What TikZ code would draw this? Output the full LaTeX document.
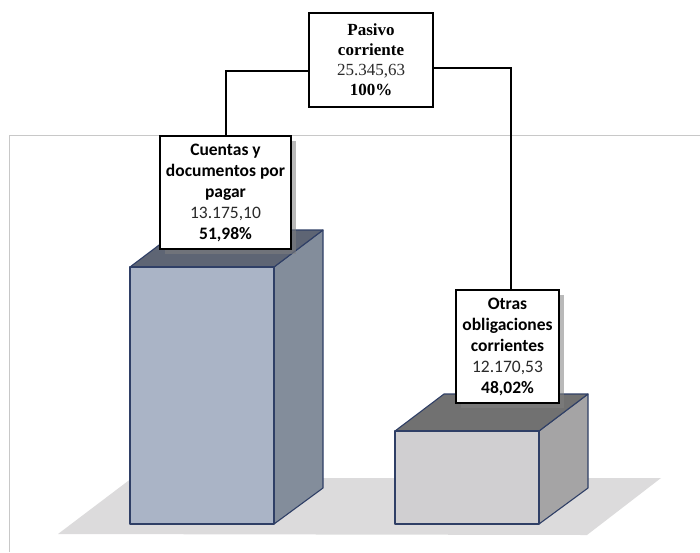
\documentclass[tikz,border=0pt]{standalone}
\usepackage{fontspec}
\setmainfont{Carlito}
\newfontfamily\timesfont{Liberation Serif}
\usetikzlibrary{shadows}
\definecolor{framegray}{HTML}{C8C8C8}
\definecolor{floorgray}{HTML}{DCDBDC}
\definecolor{barline}{HTML}{2F3F66}
\definecolor{blueface}{HTML}{AAB4C6}
\definecolor{blueside}{HTML}{838D9B}
\definecolor{bluetop}{HTML}{5E6574}
\definecolor{grayface}{HTML}{D0CFD1}
\definecolor{grayside}{HTML}{A5A4A5}
\definecolor{graytop}{HTML}{717171}
\definecolor{valuegray}{HTML}{2A2A2A}
\tikzset{
  baredge/.style={draw=barline, line width=1.1pt, line join=round},
  labelbox/.style={draw, line width=1.3pt, fill=white, align=center, inner sep=0pt,
    font=\fontsize{17.5}{21}\selectfont},
  shadowbox/.style={labelbox, drop shadow={shadow xshift=5pt, shadow yshift=-5pt,
    fill=black!50, opacity=0.55}},
  link/.style={line width=2pt}
}
\begin{document}
\begin{tikzpicture}[x=1pt, y=-1pt]
\useasboundingbox (0,0) rectangle (700,552);
% chart area and floor
\draw[framegray, line width=0.9pt] (9,552) -- (9,135) -- (700,135);
\fill[floorgray] (58,534) -- (587,535) -- (661,478) -- (132,478) -- cycle;
% first bar
\filldraw[baredge, fill=blueside] (274,267) -- (323,230) -- (323,488) -- (274,524) -- cycle;
\filldraw[baredge, fill=bluetop] (130,267) -- (179,230) -- (323,230) -- (274,267) -- cycle;
\filldraw[baredge, fill=blueface] (130,267) rectangle (274,524);
% second bar
\filldraw[baredge, fill=grayside] (539,431) -- (588,394) -- (588,488) -- (539,524) -- cycle;
\filldraw[baredge, fill=graytop] (395,431) -- (444,394) -- (588,394) -- (539,431) -- cycle;
\filldraw[baredge, fill=grayface] (395,431) rectangle (539,524);
% labels
\node[labelbox, line width=1.1pt, minimum width=124, minimum height=94,
  font=\timesfont\fontsize{17}{20}\selectfont] (pasivo) at (371,60)
  {\textbf{Pasivo}\\\textbf{corriente}\\\textcolor{valuegray}{25.345,63}\\\textbf{100\%}};
\node[shadowbox, minimum width=131, minimum height=113] (cuentas) at (225.5,192.5)
  {\textbf{Cuentas y}\\\textbf{documentos por}\\\textbf{pagar}\\\textcolor{valuegray}{13.175,10}\\\textbf{51,98\%}};
\node[shadowbox, minimum width=103, minimum height=113] (otras) at (507.5,346.5)
  {\textbf{Otras}\\\textbf{obligaciones}\\\textbf{corrientes}\\\textcolor{valuegray}{12.170,53}\\\textbf{48,02\%}};
% connectors
\draw[link] ([yshift=-11pt]pasivo.west) -| (cuentas.north);
\draw[link] ([yshift=-8pt]pasivo.east) -| ([xshift=3pt]otras.north);
\end{tikzpicture}
\end{document}
